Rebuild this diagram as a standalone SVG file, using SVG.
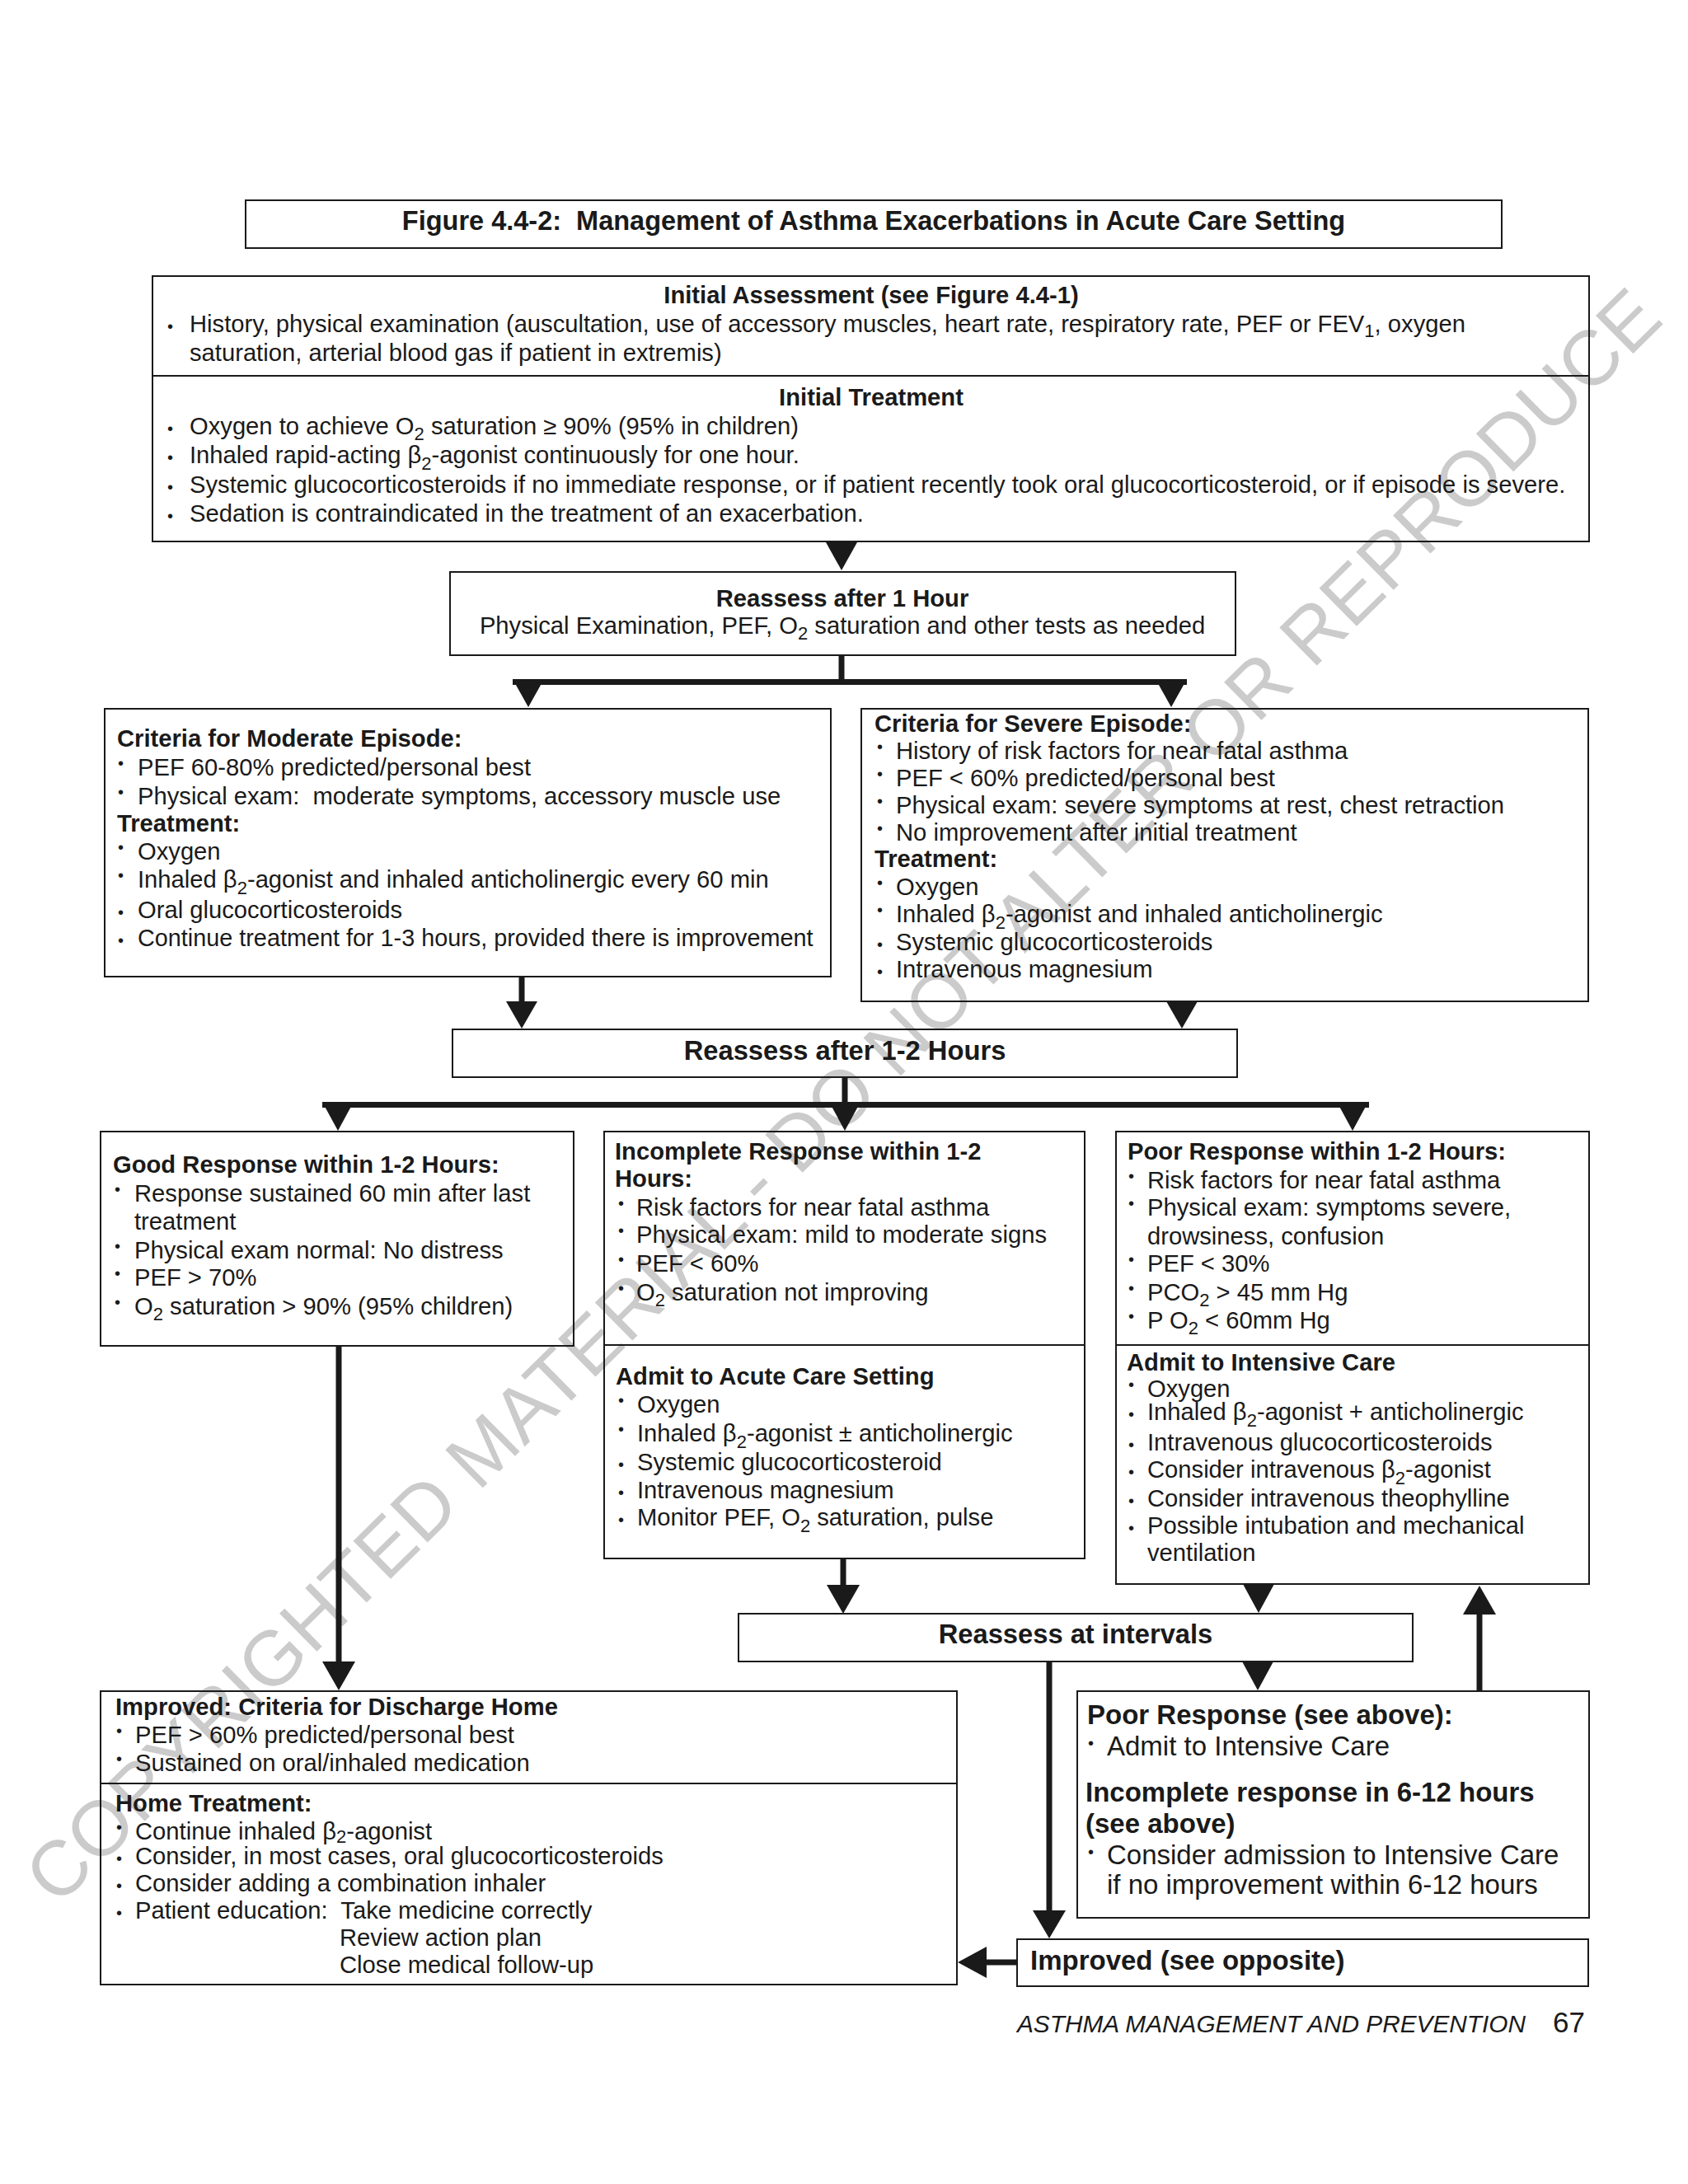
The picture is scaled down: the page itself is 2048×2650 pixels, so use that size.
<svg xmlns="http://www.w3.org/2000/svg" width="2048" height="2650" viewBox="0 0 2048 2650">
<style>
.t{font-family:"Liberation Sans",Arial,sans-serif;font-size:29.2px;fill:#1a1a1a}
.b{font-weight:bold}
.c{text-anchor:middle}
.big{font-size:33px}
.s{font-size:22px}
.bu{font-family:"Liberation Sans",Arial,sans-serif;font-size:20px;fill:#1a1a1a}
.bx{fill:none;stroke:#1a1a1a;stroke-width:2}
.ln{stroke:#1a1a1a;stroke-width:7;fill:none}
.ah{fill:#1a1a1a}
.wm{font-family:"Liberation Sans",Arial,sans-serif;font-size:94px;fill:#cbcbcb}
.ft{font-family:"Liberation Sans",Arial,sans-serif;font-size:29.8px;font-style:italic;fill:#1a1a1a}
</style>
<rect width="2048" height="2650" fill="#ffffff"/>
<text class="wm" transform="translate(1022,1329) rotate(-44.6)" y="33" text-anchor="middle" textLength="2740" lengthAdjust="spacing">COPYRIGHTED MATERIAL - DO NOT ALTER OR REPRODUCE</text>

<g id="title">
<rect class="bx" x="298" y="243" width="1524" height="58"/>
<text class="t b c" x="1060" y="279" style="font-size:32.5px" xml:space="preserve">Figure 4.4-2:  Management of Asthma Exacerbations in Acute Care Setting</text>
</g>

<g id="initial">
<rect class="bx" x="185" y="335" width="1743" height="322"/>
<line class="bx" x1="185" y1="456" x2="1928" y2="456"/>
<text class="t b c" x="1057" y="368">Initial Assessment (see Figure 4.4-1)</text>
<text class="bu" x="203" y="403">•</text>
<text class="t" x="230" y="403">History, physical examination (auscultation, use of accessory muscles, heart rate, respiratory rate, PEF or FEV<tspan class="s" dy="6">1</tspan><tspan dy="-6">, oxygen</tspan></text>
<text class="t" x="230" y="438">saturation, arterial blood gas if patient in extremis)</text>
<text class="t b c" x="1057" y="492">Initial Treatment</text>
<text class="bu" x="203" y="527">•</text>
<text class="t" x="230" y="527">Oxygen to achieve O<tspan class="s" dy="7">2</tspan><tspan dy="-7"> saturation ≥ 90% (95% in children)</tspan></text>
<text class="bu" x="203" y="562">•</text>
<text class="t" x="230" y="562">Inhaled rapid-acting β<tspan class="s" dy="8">2</tspan><tspan dy="-8">-agonist continuously for one hour.</tspan></text>
<text class="bu" x="203" y="598">•</text>
<text class="t" x="230" y="598">Systemic glucocorticosteroids if no immediate response, or if patient recently took oral glucocorticosteroid, or if episode is severe.</text>
<text class="bu" x="203" y="633">•</text>
<text class="t" x="230" y="633">Sedation is contraindicated in the treatment of an exacerbation.</text>
</g>

<g id="reassess1">
<rect class="bx" x="546" y="694" width="953" height="101"/>
<text class="t b c" x="1022" y="736">Reassess after 1 Hour</text>
<text class="t c" x="1022" y="769">Physical Examination, PEF, O<tspan class="s" dy="7">2</tspan><tspan dy="-7"> saturation and other tests as needed</tspan></text>
</g>

<g id="moderate">
<rect class="bx" x="127" y="860" width="881" height="325"/>
<text class="t b" x="142" y="906">Criteria for Moderate Episode:</text>
<text class="bu" x="143" y="933">•</text>
<text class="t" x="167" y="941">PEF 60-80% predicted/personal best</text>
<text class="bu" x="143" y="968">•</text>
<text class="t" x="167" y="976" xml:space="preserve">Physical exam:  moderate symptoms, accessory muscle use</text>
<text class="t b" x="142" y="1009">Treatment:</text>
<text class="bu" x="143" y="1035">•</text>
<text class="t" x="167" y="1043">Oxygen</text>
<text class="bu" x="143" y="1069">•</text>
<text class="t" x="167" y="1077">Inhaled β<tspan class="s" dy="8">2</tspan><tspan dy="-8">-agonist and inhaled anticholinergic every 60 min</tspan></text>
<text class="bu" x="143" y="1114">•</text>
<text class="t" x="167" y="1114">Oral glucocorticosteroids</text>
<text class="bu" x="143" y="1148">•</text>
<text class="t" x="167" y="1148" style="font-size:28.8px">Continue treatment for 1-3 hours, provided there is improvement</text>
</g>

<g id="severe">
<rect class="bx" x="1045" y="860" width="882" height="355"/>
<text class="t b" x="1061" y="888">Criteria for Severe Episode:</text>
<text class="bu" x="1064" y="913">•</text>
<text class="t" x="1087" y="921">History of risk factors for near fatal asthma</text>
<text class="bu" x="1064" y="946">•</text>
<text class="t" x="1087" y="954">PEF &lt; 60% predicted/personal best</text>
<text class="bu" x="1064" y="979">•</text>
<text class="t" x="1087" y="987">Physical exam: severe symptoms at rest, chest retraction</text>
<text class="bu" x="1064" y="1012">•</text>
<text class="t" x="1087" y="1020">No improvement after initial treatment</text>
<text class="t b" x="1061" y="1052">Treatment:</text>
<text class="bu" x="1064" y="1078">•</text>
<text class="t" x="1087" y="1086">Oxygen</text>
<text class="bu" x="1064" y="1111">•</text>
<text class="t" x="1087" y="1119">Inhaled β<tspan class="s" dy="8">2</tspan><tspan dy="-8">-agonist and inhaled anticholinergic</tspan></text>
<text class="bu" x="1064" y="1153">•</text>
<text class="t" x="1087" y="1153">Systemic glucocorticosteroids</text>
<text class="bu" x="1064" y="1186">•</text>
<text class="t" x="1087" y="1186">Intravenous magnesium</text>
</g>

<g id="reassess12">
<rect class="bx" x="549" y="1249" width="952" height="58"/>
<text class="t b c" x="1025" y="1286" style="font-size:32.7px">Reassess after 1-2 Hours</text>
</g>

<g id="good">
<rect class="bx" x="122" y="1373" width="574" height="260"/>
<text class="t b" x="137" y="1423">Good Response within 1-2 Hours:</text>
<text class="bu" x="139" y="1450">•</text>
<text class="t" x="163" y="1458">Response sustained 60 min after last</text>
<text class="t" x="163" y="1492">treatment</text>
<text class="bu" x="139" y="1519">•</text>
<text class="t" x="163" y="1527">Physical exam normal: No distress</text>
<text class="bu" x="139" y="1552">•</text>
<text class="t" x="163" y="1560">PEF &gt; 70%</text>
<text class="bu" x="139" y="1587">•</text>
<text class="t" x="163" y="1595">O<tspan class="s" dy="7">2</tspan><tspan dy="-7"> saturation &gt; 90% (95% children)</tspan></text>
</g>

<g id="incomplete">
<rect class="bx" x="733" y="1373" width="583" height="518"/>
<line class="bx" x1="733" y1="1632" x2="1316" y2="1632"/>
<text class="t b" x="746" y="1407">Incomplete Response within 1-2</text>
<text class="t b" x="746" y="1440">Hours:</text>
<text class="bu" x="750" y="1467">•</text>
<text class="t" x="772" y="1475">Risk factors for near fatal asthma</text>
<text class="bu" x="750" y="1500">•</text>
<text class="t" x="772" y="1508">Physical exam: mild to moderate signs</text>
<text class="bu" x="750" y="1535">•</text>
<text class="t" x="772" y="1543">PEF &lt; 60%</text>
<text class="bu" x="750" y="1570">•</text>
<text class="t" x="772" y="1578">O<tspan class="s" dy="7">2</tspan><tspan dy="-7"> saturation not improving</tspan></text>
<text class="t b" x="747" y="1680">Admit to Acute Care Setting</text>
<text class="bu" x="750" y="1706">•</text>
<text class="t" x="773" y="1714">Oxygen</text>
<text class="bu" x="750" y="1741">•</text>
<text class="t" x="773" y="1749">Inhaled β<tspan class="s" dy="8">2</tspan><tspan dy="-8">-agonist ± anticholinergic</tspan></text>
<text class="bu" x="750" y="1784">•</text>
<text class="t" x="773" y="1784">Systemic glucocorticosteroid</text>
<text class="bu" x="750" y="1818">•</text>
<text class="t" x="773" y="1818">Intravenous magnesium</text>
<text class="bu" x="750" y="1851">•</text>
<text class="t" x="773" y="1851">Monitor PEF, O<tspan class="s" dy="8">2</tspan><tspan dy="-8"> saturation, pulse</tspan></text>
</g>

<g id="poor">
<rect class="bx" x="1354" y="1373" width="574" height="549"/>
<line class="bx" x1="1354" y1="1632" x2="1928" y2="1632"/>
<text class="t b" x="1368" y="1407">Poor Response within 1-2 Hours:</text>
<text class="bu" x="1369" y="1434">•</text>
<text class="t" x="1392" y="1442">Risk factors for near fatal asthma</text>
<text class="bu" x="1369" y="1467">•</text>
<text class="t" x="1392" y="1475">Physical exam: symptoms severe,</text>
<text class="t" x="1392" y="1510">drowsiness, confusion</text>
<text class="bu" x="1369" y="1535">•</text>
<text class="t" x="1392" y="1543">PEF &lt; 30%</text>
<text class="bu" x="1369" y="1570">•</text>
<text class="t" x="1392" y="1578">PCO<tspan class="s" dy="7">2</tspan><tspan dy="-7"> &gt; 45 mm Hg</tspan></text>
<text class="bu" x="1369" y="1604">•</text>
<text class="t" x="1392" y="1612">P O<tspan class="s" dy="7">2</tspan><tspan dy="-7"> &lt; 60mm Hg</tspan></text>
<text class="t b" x="1367" y="1663">Admit to Intensive Care</text>
<text class="bu" x="1369" y="1687">•</text>
<text class="t" x="1392" y="1695">Oxygen</text>
<text class="bu" x="1369" y="1723">•</text>
<text class="t" x="1392" y="1723">Inhaled β<tspan class="s" dy="8">2</tspan><tspan dy="-8">-agonist + anticholinergic</tspan></text>
<text class="bu" x="1369" y="1760">•</text>
<text class="t" x="1392" y="1760">Intravenous glucocorticosteroids</text>
<text class="bu" x="1369" y="1793">•</text>
<text class="t" x="1392" y="1793">Consider intravenous β<tspan class="s" dy="8">2</tspan><tspan dy="-8">-agonist</tspan></text>
<text class="bu" x="1369" y="1828">•</text>
<text class="t" x="1392" y="1828">Consider intravenous theophylline</text>
<text class="bu" x="1369" y="1861">•</text>
<text class="t" x="1392" y="1861">Possible intubation and mechanical</text>
<text class="t" x="1392" y="1894">ventilation</text>
</g>

<g id="reassessIntervals">
<rect class="bx" x="896" y="1958" width="818" height="58"/>
<text class="t b c" x="1305" y="1994" style="font-size:32.7px">Reassess at intervals</text>
</g>

<g id="discharge">
<rect class="bx" x="122" y="2052" width="1039" height="356"/>
<line class="bx" x1="122" y1="2164" x2="1161" y2="2164"/>
<text class="t b" x="140" y="2081">Improved: Criteria for Discharge Home</text>
<text class="bu" x="141" y="2107">•</text>
<text class="t" x="164" y="2115">PEF &gt; 60% predicted/personal best</text>
<text class="bu" x="141" y="2141">•</text>
<text class="t" x="164" y="2149">Sustained on oral/inhaled medication</text>
<text class="t b" x="140" y="2198">Home Treatment:</text>
<text class="bu" x="141" y="2224">•</text>
<text class="t" x="164" y="2232">Continue inhaled β<tspan class="s" dy="4">2</tspan><tspan dy="-4">-agonist</tspan></text>
<text class="bu" x="141" y="2262">•</text>
<text class="t" x="164" y="2262">Consider, in most cases, oral glucocorticosteroids</text>
<text class="bu" x="141" y="2295">•</text>
<text class="t" x="164" y="2295">Consider adding a combination inhaler</text>
<text class="bu" x="141" y="2328">•</text>
<text class="t" x="164" y="2328" xml:space="preserve">Patient education:  Take medicine correctly</text>
<text class="t" x="412" y="2361">Review action plan</text>
<text class="t" x="412" y="2394">Close medical follow-up</text>
</g>

<g id="poorSeeAbove">
<rect class="bx" x="1307" y="2052" width="621" height="275"/>
<text class="t b big" x="1319" y="2092">Poor Response (see above):</text>
<text class="bu" x="1320" y="2122">•</text>
<text class="t big" x="1343" y="2130">Admit to Intensive Care</text>
<text class="t b big" x="1317" y="2186">Incomplete response in 6-12 hours</text>
<text class="t b big" x="1317" y="2224">(see above)</text>
<text class="bu" x="1320" y="2254">•</text>
<text class="t big" x="1343" y="2262">Consider admission to Intensive Care</text>
<text class="t big" x="1343" y="2298">if no improvement within 6-12 hours</text>
</g>

<g id="improved">
<rect class="bx" x="1234" y="2353" width="693" height="57"/>
<text class="t b big" x="1250" y="2390">Improved (see opposite)</text>
</g>

<g id="connectors">
<polygon class="ah" points="1002,658 1040,658 1021,692"/>
<line class="ln" x1="1021" y1="795" x2="1021" y2="828"/>
<rect class="ah" x="622" y="824" width="818" height="7"/>
<polygon class="ah" points="622,824 660,824 641,858"/>
<polygon class="ah" points="1402,824 1440,824 1421,858"/>
<line class="ln" x1="633" y1="1185" x2="633" y2="1216"/>
<polygon class="ah" points="614,1215 652,1215 633,1248"/>
<polygon class="ah" points="1415,1215 1453,1215 1434,1248"/>
<line class="ln" x1="1025" y1="1307" x2="1025" y2="1338"/>
<rect class="ah" x="391" y="1337" width="1270" height="7"/>
<polygon class="ah" points="391,1337 429,1337 410,1372"/>
<polygon class="ah" points="1006,1337 1044,1337 1025,1372"/>
<polygon class="ah" points="1622,1337 1660,1337 1641,1372"/>
<line class="ln" x1="411" y1="1633" x2="411" y2="2018"/>
<polygon class="ah" points="391,2016 431,2016 411,2051"/>
<line class="ln" x1="1023" y1="1891" x2="1023" y2="1925"/>
<polygon class="ah" points="1003,1923 1043,1923 1023,1958"/>
<polygon class="ah" points="1508,1922 1546,1922 1527,1957"/>
<polygon class="ah" points="1507,2016 1545,2016 1526,2051"/>
<line class="ln" x1="1795" y1="2052" x2="1795" y2="1957"/>
<polygon class="ah" points="1775,1959 1815,1959 1795,1924"/>
<line class="ln" x1="1273" y1="2016" x2="1273" y2="2320"/>
<polygon class="ah" points="1253,2318 1293,2318 1273,2352"/>
<line class="ln" x1="1234" y1="2381" x2="1195" y2="2381"/>
<polygon class="ah" points="1197,2362 1197,2400 1162,2381"/>
</g>

<g id="footer">
<text class="ft" x="1234" y="2466">ASTHMA MANAGEMENT AND PREVENTION</text>
<text class="t" x="1884" y="2466" style="font-size:35px">67</text>
</g>
</svg>
